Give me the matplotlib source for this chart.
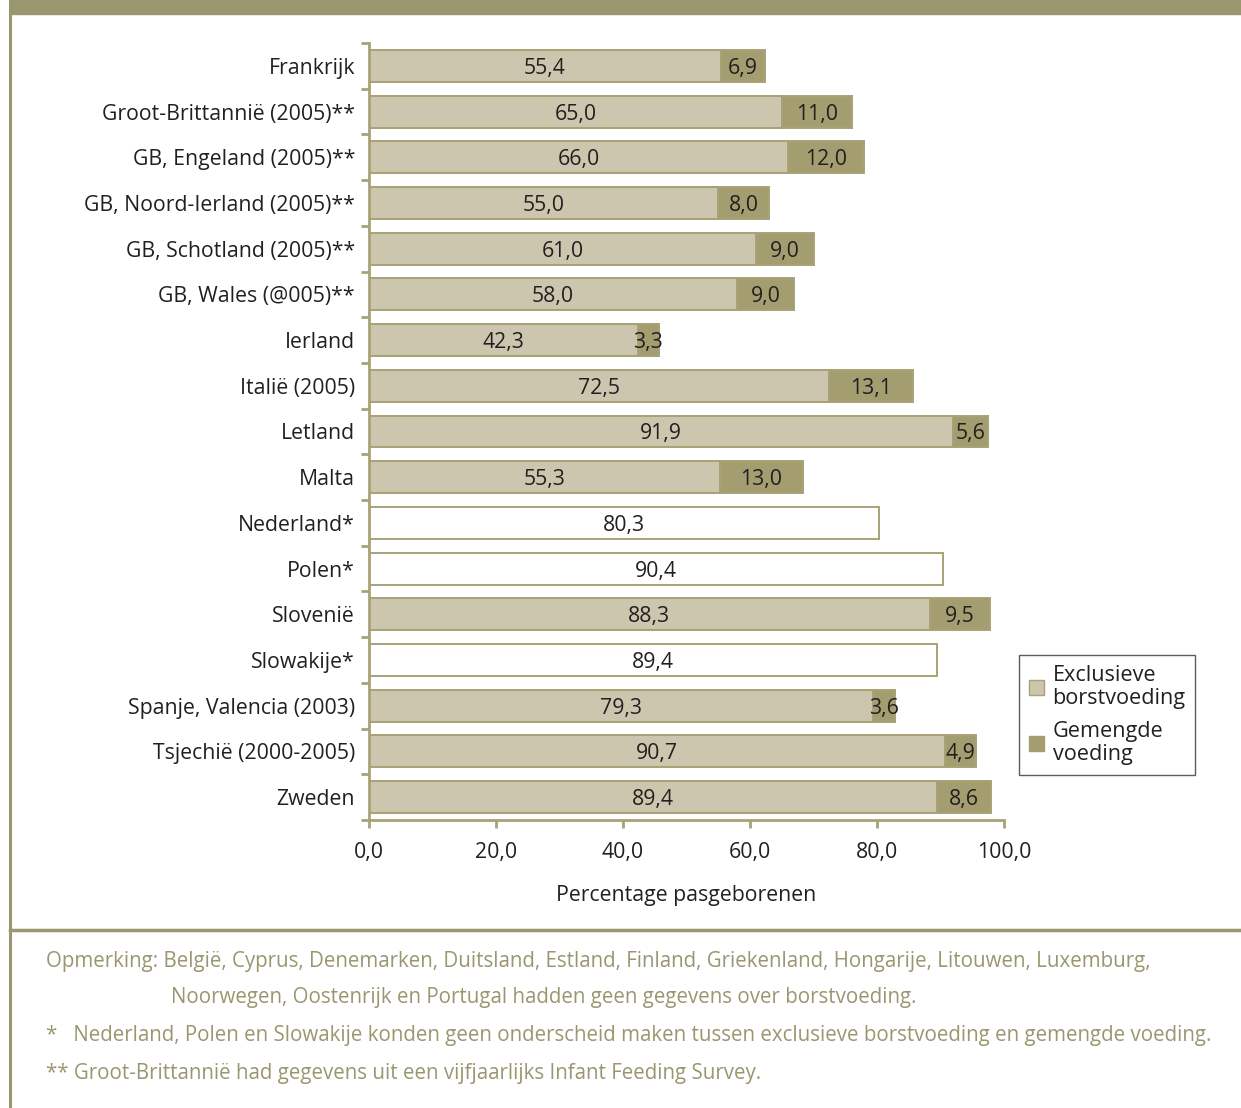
import numpy as np
import matplotlib
matplotlib.use('Agg')
import matplotlib.pyplot as plt
from matplotlib.patches import Patch, Rectangle
from matplotlib.lines import Line2D

nan = np.nan

landen = ['Frankrijk', 'Groot-Brittannië (2005)**', 'GB, Engeland (2005)**',
          'GB, Noord-Ierland (2005)**', 'GB, Schotland (2005)**', 'GB, Wales (@005)**',
          'Ierland', 'Italië (2005)', 'Letland', 'Malta', 'Nederland*', 'Polen*',
          'Slovenië', 'Slowakije*', 'Spanje, Valencia (2003)', 'Tsjechië (2000-2005)',
          'Zweden']
exclusief = [55.4, 65.0, 66.0, 55.0, 61.0, 58.0, 42.3, 72.5, 91.9, 55.3,
             nan, nan, 88.3, nan, 79.3, 90.7, 89.4]
gemengd = [6.9, 11.0, 12.0, 8.0, 9.0, 9.0, 3.3, 13.1, 5.6, 13.0,
           nan, nan, 9.5, nan, 3.6, 4.9, 8.6]
# landen zonder onderscheid tussen exclusief en gemengd
totaal = [nan, nan, nan, nan, nan, nan, nan, nan, nan, nan,
          80.3, 90.4, nan, 89.4, nan, nan, nan]
xticks = [0, 20, 40, 60, 80, 100]

LIGHT = '#cdc6ae'
DARK = '#a39d6f'
EDGE = '#a8a276'
OLIVE = '#9a9670'
TXT = '#231f20'

plt.rcParams['font.family'] = ['Open Sans', 'DejaVu Sans']

fig = plt.figure(figsize=(12.41, 11.08), dpi=100)
ax = fig.add_axes([369 / 1241, 1 - 820 / 1108, 635 / 1241, 777 / 1108])

y = np.arange(len(landen))
h = 0.7
fs = 15.3

for i in y:
    if not np.isnan(totaal[i]):
        ax.barh(i, totaal[i], height=h, color='white', edgecolor=EDGE, linewidth=1.4)
        ax.text(totaal[i] / 2, i, f'{totaal[i]:.1f}'.replace('.', ','),
                ha='center', va='center_baseline', fontsize=fs, color=TXT)
        continue
    ex, mx = exclusief[i], gemengd[i]
    ax.barh(i, ex + mx, height=h, color=DARK, edgecolor=EDGE, linewidth=1.4)
    ax.barh(i, ex, height=h, color=LIGHT, edgecolor=EDGE, linewidth=1.4)
    ax.text(ex / 2, i, f'{ex:.1f}'.replace('.', ','),
            ha='center', va='center_baseline', fontsize=fs, color=TXT)
    ax.text(ex + mx / 2, i, f'{mx:.1f}'.replace('.', ','),
            ha='center', va='center_baseline', fontsize=fs, color=TXT)

ax.set_xlim(0, 100)
ax.set_ylim(len(landen) - 0.5, -0.5)
ax.set_yticks(y)
ax.set_yticklabels(landen, fontsize=fs, color=TXT, va='center_baseline')
ax.set_yticks(np.arange(-0.5, len(landen), 1), minor=True)
ax.tick_params(axis='y', which='major', length=0, pad=10)
ax.tick_params(axis='y', which='minor', length=6, color=EDGE, width=2)
ax.set_xticks(xticks)
ax.set_xticklabels([f'{v:.1f}'.replace('.', ',') for v in xticks], fontsize=fs, color=TXT)
ax.tick_params(axis='x', length=6, color=EDGE, width=2, pad=10)
ax.set_xlabel('Percentage pasgeborenen', fontsize=fs, color=TXT, labelpad=16)

for s in ['top', 'right']:
    ax.spines[s].set_visible(False)
for s in ['left', 'bottom']:
    ax.spines[s].set_color(EDGE)
    ax.spines[s].set_linewidth(2)

handles = [Patch(facecolor=LIGHT, edgecolor=EDGE, label='Exclusieve\nborstvoeding'),
           Patch(facecolor=DARK, edgecolor=DARK, label='Gemengde\nvoeding')]
leg = fig.legend(handles=handles, loc='upper left', bbox_to_anchor=(1019 / 1241, 1 - 655 / 1108),
                 fontsize=fs + 0.3, frameon=True, fancybox=False, edgecolor='#333333',
                 handlelength=0.7, handleheight=0.7, handletextpad=0.4,
                 labelspacing=0.55, borderpad=0.45, borderaxespad=0, labelcolor=TXT)
leg.get_frame().set_linewidth(1.0)
for t in leg.get_texts():
    t.set_linespacing(1.15)

# kader rond de figuur
fig.patches.append(Rectangle((10 / 1241, 1 - 14 / 1108), 1, 14 / 1108,
                             transform=fig.transFigure, color=OLIVE, zorder=0))
fig.lines.append(Line2D([10 / 1241, 10 / 1241], [0, 1], transform=fig.transFigure,
                        color=OLIVE, linewidth=2.2))
fig.lines.append(Line2D([10 / 1241, 1], [1 - 930 / 1108] * 2, transform=fig.transFigure,
                        color=OLIVE, linewidth=2.5))

noten = [(46, 961, 'Opmerking: België, Cyprus, Denemarken, Duitsland, Estland, Finland, Griekenland, Hongarije, Litouwen, Luxemburg,'),
         (171, 998, 'Noorwegen, Oostenrijk en Portugal hadden geen gegevens over borstvoeding.'),
         (46, 1036, '*   Nederland, Polen en Slowakije konden geen onderscheid maken tussen exclusieve borstvoeding en gemengde voeding.'),
         (46, 1073, '** Groot-Brittannië had gegevens uit een vijfjaarlijks Infant Feeding Survey.')]
for x0, y0, tekst in noten:
    fig.text(x0 / 1241, 1 - y0 / 1108, tekst, ha='left', va='center',
             fontsize=14.8, color=OLIVE)

plt.savefig('out.png', dpi=100)
plt.close()
